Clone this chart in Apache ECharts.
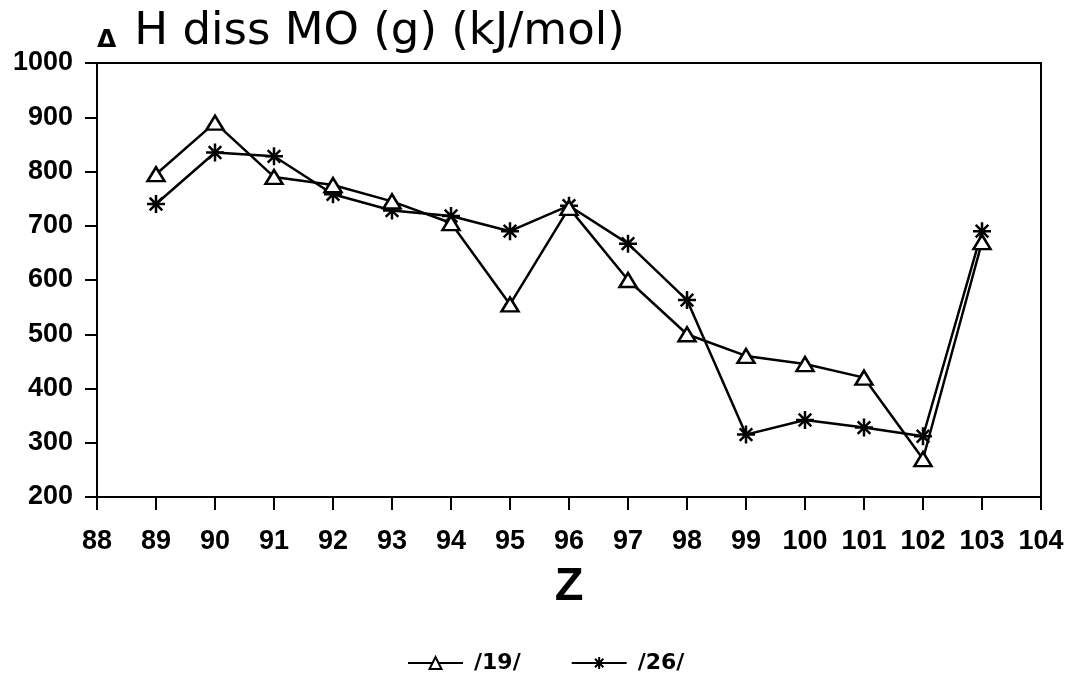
<!DOCTYPE html>
<html>
<head>
<meta charset="utf-8">
<script src="https://cdn.jsdelivr.net/npm/echarts@6/dist/echarts.min.js"></script>
<style>
  html, body { margin: 0; padding: 0; background: #fff; }
  #chart { width: 1074px; height: 679px; }
</style>
</head>
<body>
<div id="chart"></div>
<script>
// Atomic number Z for the actinide monoxides
const zValues = [89, 90, 91, 92, 93, 94, 95, 96, 97, 98, 99, 100, 101, 102, 103];
// Dissociation enthalpy of MO(g), kJ/mol, from two reference sets
const ref19 = [795, 890, 790, 775, 745, 705, 555, 733, 600, 500, 460, 445, 420, 270, 670];
const ref26 = [740, 835, 828, 758, 728, 718, 690, 737, 667, 563, 315, 342, 328, 312, 690];
const seriesNames = ['/19/', '/26/'];
const xRange = [88, 104];
const yRange = [200, 1000];

const ASTERISK = 'path://M0,-10L0,10M-10,0L10,0M-7,-7L7,7M-7,7L7,-7';
const tickFont = { fontFamily: 'Liberation Sans', fontWeight: 'bold', fontSize: 27, color: '#000' };

function pairs(ys) { return zValues.map((z, i) => [z, ys[i]]); }

const chart = echarts.init(document.getElementById('chart'), null, { renderer: 'canvas' });
chart.setOption({
  backgroundColor: '#fff',
  animation: false,
  title: {
    text: '{t|Δ}H diss MO (g) (kJ/mol)',
    left: 92,
    top: 5,
    textStyle: {
      fontFamily: 'DejaVu Sans',
      fontWeight: 'normal',
      fontSize: 45,
      color: '#000',
      rich: {
        t: { fontFamily: 'DejaVu Sans', fontWeight: 'bold', fontSize: 25, color: '#000',
             padding: [0, 18, 2, 0], verticalAlign: 'bottom' }
      }
    }
  },
  grid: {
    left: 97, right: 33, top: 63, bottom: 182,
    outerBoundsMode: 'none',
    containLabel: false,
    show: true, borderColor: '#000', borderWidth: 2, backgroundColor: 'transparent'
  },
  legend: {
    left: 407,
    top: 652,
    padding: 0,
    itemWidth: 55,
    itemHeight: 15,
    itemGap: 50,
    data: seriesNames,
    textStyle: { fontFamily: 'DejaVu Sans', fontWeight: 'bold', fontSize: 22, color: '#000', padding: [0, 0, 0, 6] }
  },
  xAxis: {
    type: 'value',
    min: xRange[0], max: xRange[1], interval: 1,
    name: 'Z',
    nameLocation: 'middle',
    nameGap: 67,
    nameTextStyle: { fontFamily: 'Liberation Sans', fontWeight: 'bold', fontSize: 47, color: '#000', verticalAlign: 'top' },
    axisLine: { lineStyle: { color: '#000', width: 2 } },
    axisTick: { inside: false, length: 13, lineStyle: { color: '#000', width: 2 } },
    axisLabel: Object.assign({ margin: 31, formatter: v => String(v) }, tickFont),
    splitLine: { show: false }
  },
  yAxis: {
    type: 'value',
    min: yRange[0], max: yRange[1], interval: 100,
    axisLine: { show: true, lineStyle: { color: '#000', width: 2 } },
    axisTick: { show: true, inside: false, length: 12, lineStyle: { color: '#000', width: 2 } },
    axisLabel: Object.assign({ margin: 24, formatter: v => String(v) }, tickFont),
    splitLine: { show: false }
  },
  series: [
    {
      name: seriesNames[0],
      type: 'line',
      data: pairs(ref19),
      symbol: 'triangle',
      symbolSize: [17, 14],
      showAllSymbol: true,
      lineStyle: { color: '#000', width: 2.5 },
      itemStyle: { color: '#fff', borderColor: '#000', borderWidth: 2.5 },
      z: 3
    },
    {
      name: seriesNames[1],
      type: 'line',
      data: pairs(ref26),
      symbol: ASTERISK,
      symbolSize: 18,
      showAllSymbol: true,
      lineStyle: { color: '#000', width: 2.5 },
      itemStyle: { color: '#000', borderColor: '#000', borderWidth: 2.5 },
      z: 2
    }
  ]
});
</script>
</body>
</html>
